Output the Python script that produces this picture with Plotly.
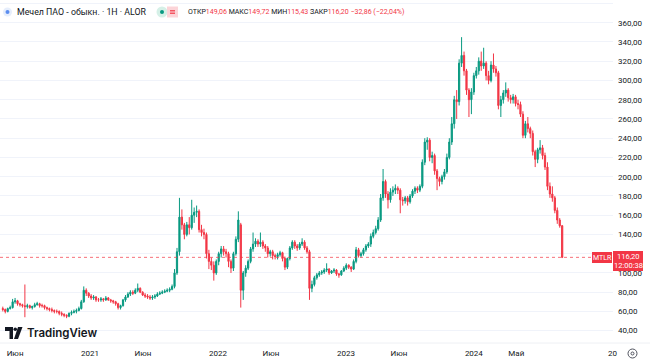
import pandas as pd
import plotly.graph_objects as go

# ---------------- data (weekly candles) ----------------
opens = [
    63, 62, 60, 63, 64, 70, 71, 68, 67, 66,
    65, 66, 64, 65, 67, 68, 66, 66, 64, 63,
    62, 61, 60, 60, 58, 57, 56, 55, 58, 59,
    60, 61, 63, 70, 82, 79, 76, 74, 75, 72,
    72, 73, 72, 74, 72, 71, 70, 68, 64, 66,
    72, 75, 78, 80, 79, 82, 84, 80, 77, 76,
    75, 74, 75, 76, 78, 79, 80, 81, 82, 83,
    86, 100, 122, 158, 150, 140, 150, 147, 160, 163,
    164, 145, 142, 140, 120, 112, 108, 100, 112, 120,
    125, 122, 120, 112, 105, 120, 135, 150, 82, 100,
    105, 112, 125, 130, 133, 130, 132, 128, 126, 120,
    122, 118, 117, 119, 121, 115, 106, 115, 126, 132,
    128, 126, 130, 132, 126, 122, 84, 88, 95, 98,
    100, 101, 103, 104, 100, 102, 103, 99, 98, 102,
    105, 108, 106, 104, 112, 124, 118, 120, 124, 128,
    130, 138, 142, 146, 155, 178, 195, 182, 176, 184,
    186, 188, 186, 176, 175, 178, 174, 180, 185, 188,
    186, 190, 215, 236, 238, 220, 222, 206, 198, 195,
    200, 205, 220, 236, 255, 280, 278, 318, 326, 310,
    290, 280, 288, 305, 310, 320, 315, 318, 305, 300,
    316, 312, 308, 274, 280, 287, 290, 282, 280, 283,
    276, 275, 265, 243, 255, 250, 245, 226, 218, 228,
    230, 222, 210, 190, 182, 178, 165, 155, 149.06,
]
highs = [
    65, 63, 64, 66, 73, 74, 72, 69, 68, 88,
    68, 67, 66, 69, 70, 69, 68, 67, 65, 64,
    64, 62, 62, 61, 60, 58, 57, 59, 61, 62,
    63, 65, 72, 86, 84, 80, 78, 77, 76, 74,
    75, 74, 76, 75, 73, 72, 71, 69, 67, 73,
    77, 80, 82, 82, 84, 89, 85, 81, 79, 78,
    77, 77, 78, 80, 81, 82, 83, 84, 85, 88,
    104, 126, 178, 166, 152, 153, 158, 176, 168, 170,
    166, 150, 146, 142, 124, 116, 112, 114, 122, 128,
    128, 125, 122, 114, 122, 138, 164, 152, 102, 108,
    114, 127, 142, 136, 135, 142, 134, 130, 128, 124,
    124, 120, 121, 123, 122, 117, 116, 128, 134, 134,
    130, 132, 136, 134, 128, 124, 92, 97, 100, 102,
    103, 105, 110, 105, 103, 105, 104, 100, 103, 107,
    110, 109, 107, 114, 127, 126, 122, 126, 130, 132,
    141, 145, 149, 158, 182, 208, 197, 185, 188, 190,
    192, 190, 188, 179, 180, 180, 182, 187, 190, 190,
    192, 218, 240, 241, 240, 226, 224, 208, 200, 202,
    208, 224, 240, 262, 284, 290, 322, 345, 330, 312,
    292, 292, 308, 314, 324, 330, 334, 320, 310, 320,
    328, 315, 310, 284, 290, 298, 292, 285, 286, 285,
    280, 278, 268, 258, 262, 252, 248, 228, 230, 238,
    233, 225, 215, 194, 190, 180, 168, 157, 149.72,
]
lows = [
    60, 58, 59, 62, 63, 68, 66, 65, 64, 54,
    63, 63, 62, 64, 66, 64, 64, 62, 61, 60,
    59, 58, 58, 56, 55, 54, 53, 54, 56, 58,
    58, 60, 62, 69, 76, 74, 72, 72, 70, 70,
    70, 70, 71, 71, 69, 68, 66, 62, 62, 65,
    70, 74, 76, 77, 78, 80, 79, 76, 74, 73,
    72, 72, 73, 75, 77, 78, 79, 80, 80, 82,
    84, 98, 118, 145, 135, 138, 140, 145, 152, 158,
    142, 138, 135, 115, 104, 103, 92, 98, 108, 116,
    118, 116, 106, 100, 102, 118, 132, 64, 72, 96,
    103, 110, 122, 127, 127, 127, 125, 122, 116, 117,
    114, 114, 114, 117, 112, 103, 104, 113, 124, 125,
    123, 124, 128, 124, 120, 72, 80, 86, 93, 96,
    98, 99, 101, 98, 99, 100, 97, 95, 97, 101,
    103, 104, 101, 103, 110, 116, 116, 118, 122, 126,
    127, 136, 140, 144, 153, 175, 178, 167, 173, 180,
    182, 182, 162, 170, 172, 170, 172, 178, 182, 183,
    184, 188, 212, 228, 216, 214, 202, 186, 190, 192,
    197, 203, 218, 233, 250, 260, 274, 314, 305, 285,
    262, 265, 285, 302, 306, 310, 312, 300, 296, 298,
    308, 304, 270, 262, 276, 283, 278, 276, 276, 273,
    270, 262, 240, 240, 246, 240, 222, 210, 214, 224,
    218, 207, 186, 178, 174, 162, 151, 147, 115.43,
]
closes = [
    62, 60, 63, 64, 70, 71, 68, 67, 66, 65,
    66, 64, 65, 67, 68, 66, 66, 64, 63, 62,
    61, 60, 60, 58, 57, 56, 55, 58, 59, 60,
    61, 63, 70, 82, 79, 76, 74, 75, 72, 72,
    73, 72, 74, 72, 71, 70, 68, 64, 66, 72,
    75, 78, 80, 79, 82, 84, 80, 77, 76, 75,
    74, 75, 76, 78, 79, 80, 81, 82, 83, 86,
    100, 122, 158, 150, 140, 150, 147, 160, 163, 164,
    145, 142, 140, 120, 112, 108, 100, 112, 120, 125,
    122, 120, 112, 105, 120, 135, 155, 82, 100, 105,
    112, 125, 130, 133, 130, 132, 128, 126, 120, 122,
    118, 117, 119, 121, 115, 106, 115, 126, 132, 128,
    126, 130, 132, 126, 122, 84, 88, 95, 98, 100,
    101, 103, 104, 100, 102, 103, 99, 98, 102, 105,
    108, 106, 104, 112, 124, 118, 120, 124, 128, 130,
    138, 142, 146, 155, 178, 195, 182, 176, 184, 186,
    188, 186, 176, 175, 178, 174, 180, 185, 188, 186,
    190, 215, 236, 238, 220, 222, 206, 198, 195, 200,
    205, 220, 236, 255, 280, 278, 318, 326, 310, 290,
    280, 288, 305, 310, 320, 315, 318, 305, 300, 316,
    312, 308, 274, 280, 287, 290, 282, 280, 283, 276,
    275, 265, 243, 255, 250, 245, 226, 218, 228, 230,
    222, 210, 190, 182, 178, 165, 155, 149, 116.20,
]
first_week = "2020-04-27"

x_tick_dates = ["2020-06-01", "2021-01-01", "2021-06-01", "2022-01-01", "2022-06-01",
                "2023-01-01", "2023-06-01", "2024-01-01", "2024-05-01"]
x_tick_labels = ["Июн", "2021", "Июн", "2022", "Июн", "2023", "Июн", "2024", "Май"]
y_tick_values = [40, 60, 80, 100, 120, 140, 160, 180, 200, 220, 240, 260, 280, 300, 320, 340, 360, 380]
y_tick_labels = ["40,00", "60,00", "80,00", "100,00", "120,00", "140,00", "160,00", "180,00", "200,00",
                 "220,00", "240,00", "260,00", "280,00", "300,00", "320,00", "340,00", "360,00", "380,00"]

title_text = "Мечел ПАО - обыкн. · 1Н · ALOR"
ohlc_names = ["ОТКР", "МАКС", "МИН", "ЗАКР"]
ohlc_values = ["149,06", "149,72", "115,43", "116,20"]
change_text = "−32,86 (−22,04%)"
ticker = "MTLR"
last_price_text = "116,20"
countdown_text = "12:00:38"

# ---------------- styling ----------------
GREEN = "#089981"
RED = "#F23645"
TXT = "#131722"
W, H = 650, 364
PLOT_R = 613   # right edge of plot in px
PLOT_B = 343   # bottom edge of plot in px


def PX(x):
    return x / PLOT_R


def PY(y):
    return (PLOT_B - y) / PLOT_B


dates = pd.date_range(first_week, periods=len(closes), freq="W-MON")

fig = go.Figure()
fig.add_trace(go.Candlestick(
    x=dates, open=opens, high=highs, low=lows, close=closes,
    increasing=dict(line=dict(color=GREEN, width=1), fillcolor=GREEN),
    decreasing=dict(line=dict(color=RED, width=1), fillcolor=RED),
    whiskerwidth=0, hoverinfo="skip", showlegend=False,
))

shapes = []
# last price dotted line
shapes.append(dict(type="line", xref="paper", yref="y", x0=0, x1=PX(592), y0=closes[-1], y1=closes[-1],
                   line=dict(color=RED, width=1, dash="dot"), opacity=0.7))
# time axis separator
shapes.append(dict(type="line", xref="paper", yref="paper", x0=0, x1=W / PLOT_R, y0=0, y1=0,
                   line=dict(color="#eef0f4", width=1)))
# ticker box
shapes.append(dict(type="rect", xref="paper", yref="paper", x0=PX(592), x1=PX(612), y0=PY(263), y1=PY(252),
                   fillcolor=RED, line=dict(width=0)))
# price box
shapes.append(dict(type="rect", xref="paper", yref="paper", x0=PX(613), x1=PX(643), y0=PY(271), y1=PY(251),
                   fillcolor=RED, line=dict(width=0)))
# header icons
shapes.append(dict(type="circle", xref="paper", yref="paper", x0=PX(3), x1=PX(12), y0=PY(16.5), y1=PY(7.5),
                   fillcolor="#e6eefc", line=dict(width=0)))
shapes.append(dict(type="circle", xref="paper", yref="paper", x0=PX(5.5), x1=PX(9.5), y0=PY(14), y1=PY(10),
                   fillcolor="#5b8def", line=dict(width=0)))
shapes.append(dict(type="circle", xref="paper", yref="paper", x0=PX(156.5), x1=PX(167.5), y0=PY(17.5), y1=PY(6.5),
                   fillcolor="#d5f0e7", line=dict(width=0)))
shapes.append(dict(type="circle", xref="paper", yref="paper", x0=PX(160), x1=PX(164), y0=PY(14), y1=PY(10),
                   fillcolor=GREEN, line=dict(width=0)))
shapes.append(dict(type="rect", xref="paper", yref="paper", x0=PX(167), x1=PX(178), y0=PY(17.5), y1=PY(6.5),
                   fillcolor="#fcd4d8", line=dict(width=0)))
shapes.append(dict(type="line", xref="paper", yref="paper", x0=PX(170), x1=PX(175), y0=PY(10.8), y1=PY(10.8),
                   line=dict(color=RED, width=1.2)))
shapes.append(dict(type="line", xref="paper", yref="paper", x0=PX(170), x1=PX(175), y0=PY(13.2), y1=PY(13.2),
                   line=dict(color=RED, width=1.2)))
# TradingView logo
shapes.append(dict(type="path", xref="paper", yref="paper",
                   path=f"M {PX(5)} {PY(327)} L {PX(13)} {PY(327)} L {PX(13)} {PY(339)} L {PX(9.5)} {PY(339)} "
                        f"L {PX(9.5)} {PY(331)} L {PX(5)} {PY(331)} Z",
                   fillcolor=TXT, line=dict(width=0)))
shapes.append(dict(type="circle", xref="paper", yref="paper", x0=PX(13.5), x1=PX(17), y0=PY(331), y1=PY(327.5),
                   fillcolor=TXT, line=dict(width=0)))
shapes.append(dict(type="path", xref="paper", yref="paper",
                   path=f"M {PX(18)} {PY(327)} L {PX(22.5)} {PY(327)} L {PX(18)} {PY(339)} L {PX(14)} {PY(339)} Z",
                   fillcolor=TXT, line=dict(width=0)))
# settings icon bottom right
shapes.append(dict(type="circle", xref="paper", yref="paper", x0=PX(628), x1=PX(637), y0=PY(358), y1=PY(349),
                   fillcolor="white", line=dict(color="#50535e", width=1)))
shapes.append(dict(type="circle", xref="paper", yref="paper", x0=PX(631), x1=PX(634), y0=PY(355), y1=PY(352),
                   fillcolor="white", line=dict(color="#50535e", width=1)))

ohlc_html = " ".join(f"{n}<span style='color:{RED}'>{v}</span>" for n, v in zip(ohlc_names, ohlc_values))
ohlc_html += f" <span style='color:{RED}'>{change_text}</span>"

annotations = [
    dict(x=PX(15), y=PY(12), xref="paper", yref="paper", text=title_text, showarrow=False,
         xanchor="left", yanchor="middle", font=dict(family="Roboto", size=8.8, color=TXT)),
    dict(x=PX(186), y=PY(12), xref="paper", yref="paper", text=ohlc_html, showarrow=False,
         xanchor="left", yanchor="middle", font=dict(family="Roboto", size=7.0, color=TXT)),
    dict(x=PX(602), y=PY(257.5), xref="paper", yref="paper", text=ticker, showarrow=False,
         xanchor="center", yanchor="middle", font=dict(family="Roboto", size=7, color="white")),
    dict(x=PX(628), y=PY(256.5), xref="paper", yref="paper", text=last_price_text, showarrow=False,
         xanchor="center", yanchor="middle", font=dict(family="Roboto", size=7.5, color="white")),
    dict(x=PX(628), y=PY(265.5), xref="paper", yref="paper", text=countdown_text, showarrow=False,
         xanchor="center", yanchor="middle", font=dict(family="Roboto", size=7.5, color="white")),
    dict(x=PX(25), y=PY(333), xref="paper", yref="paper", text="TradingView", showarrow=False,
         xanchor="left", yanchor="middle", font=dict(family="Inter", size=11.5, color=TXT, weight=600)),
    dict(x=PX(612), y=PY(353), xref="paper", yref="paper", text="20", showarrow=False,
         xanchor="center", yanchor="middle", font=dict(family="Roboto", size=8, color=TXT)),
]

fig.update_layout(
    width=W, height=H,
    margin=dict(l=0, r=W - PLOT_R, t=0, b=H - PLOT_B),
    paper_bgcolor="white", plot_bgcolor="white",
    showlegend=False,
    shapes=shapes, annotations=annotations,
    xaxis=dict(type="date", range=["2020-04-19", "2025-02-01"], rangeslider=dict(visible=False),
               showgrid=False, zeroline=False, showline=False, ticks="",
               tickmode="array", tickvals=x_tick_dates, ticktext=x_tick_labels,
               ticklabelstandoff=4,
               tickfont=dict(family="Roboto", size=8, color=TXT)),
    yaxis=dict(side="right", range=[27.2, 383.6], tickmode="array", tickvals=y_tick_values,
               ticktext=y_tick_labels, showgrid=True, gridcolor="#f0f3fa", gridwidth=1,
               zeroline=False, showline=False, ticks="", ticklabelstandoff=4,
               tickfont=dict(family="Roboto", size=8, color=TXT)),
)

fig.write_html("out.html", config={"displayModeBar": False},
               post_script="document.body.style.margin='0px';")
